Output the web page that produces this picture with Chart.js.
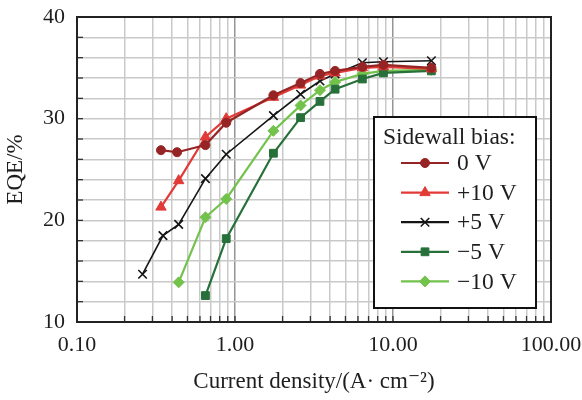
<!DOCTYPE html>
<html>
<head>
<meta charset="utf-8">
<script src="https://cdn.jsdelivr.net/npm/chart.js@4.4.0/dist/chart.umd.min.js"></script>
<style>
  html, body { margin: 0; padding: 0; background: #fff; }
  #wrap { width: 582px; height: 400px; }
</style>
</head>
<body>
<div id="wrap"><canvas id="c" width="582" height="400"></canvas></div>
<script>
// ---- data ----
const seriesNames = ['0 V', '+10 V', '+5 V', '\u22125 V', '\u221210 V'];

const jBias0   = [0.34, 0.43, 0.65, 0.88, 1.75, 2.6, 3.45, 4.3, 6.4, 8.7, 17.5];
const eqeBias0 = [26.9, 26.7, 27.4, 29.6, 32.3, 33.5, 34.4, 34.7, 35.1, 35.3, 35.0];

const jBiasP10   = [0.34, 0.44, 0.65, 0.88, 1.75, 2.6, 3.45, 4.3, 6.4, 8.7, 17.5];
const eqeBiasP10 = [21.3, 23.9, 28.2, 30.0, 32.1, 33.3, 34.2, 34.5, 35.0, 35.1, 34.9];

const jBiasP5   = [0.26, 0.35, 0.44, 0.65, 0.88, 1.75, 2.6, 3.45, 4.3, 6.4, 8.7, 17.5];
const eqeBiasP5 = [14.7, 18.5, 19.6, 24.1, 26.5, 30.3, 32.4, 33.7, 34.4, 35.5, 35.6, 35.7];

const jBiasM5   = [0.65, 0.88, 1.75, 2.6, 3.45, 4.3, 6.4, 8.7, 17.5];
const eqeBiasM5 = [12.6, 18.2, 26.6, 30.1, 31.7, 32.9, 33.9, 34.5, 34.7];

const jBiasM10   = [0.44, 0.65, 0.88, 1.75, 2.6, 3.45, 4.3, 6.4, 8.7, 17.5];
const eqeBiasM10 = [13.9, 20.3, 22.1, 28.8, 31.3, 32.8, 33.6, 34.4, 34.7, 34.8];

const xTickLabels = ['0.10', '1.00', '10.00', '100.00'];
const xDecades = [0.1, 1, 10, 100];
const yTickLabels = [10, 20, 30, 40];

// ---- build datasets ----
function pts(xs, ys) { return xs.map((x, i) => ({ x: x, y: ys[i] })); }
const styles = [
  { color: '#962424', point: 'circle',   radius: 4.5 },
  { color: '#e23a36', point: 'triangle', radius: 6 },
  { color: '#151515', point: 'crossRot', radius: 6 },
  { color: '#27703a', point: 'rect',     radius: 5.5 },
  { color: '#72c24c', point: 'rectRot',  radius: 5.5 }
];
const seriesData = [
  pts(jBias0, eqeBias0),
  pts(jBiasP10, eqeBiasP10),
  pts(jBiasP5, eqeBiasP5),
  pts(jBiasM5, eqeBiasM5),
  pts(jBiasM10, eqeBiasM10)
];
const datasets = seriesData.map((d, i) => ({
  label: seriesNames[i],
  data: d,
  borderColor: styles[i].color,
  backgroundColor: styles[i].color,
  pointBackgroundColor: styles[i].color,
  pointBorderColor: styles[i].color,
  pointStyle: styles[i].point,
  pointRadius: styles[i].radius,
  pointBorderWidth: styles[i].point === 'crossRot' ? 1.6 : 1,
  borderWidth: styles[i].point === 'crossRot' ? 1.6 : 2.2,
  tension: 0
}));

const SERIF = "'Liberation Serif', 'DejaVu Serif', serif";
const TEXT = '#1e1e1e';

function isDecade(v) {
  const l = Math.log10(v);
  return Math.abs(l - Math.round(l)) < 1e-6;
}

// inward ticks on left and bottom axis
const innerTicks = {
  id: 'innerTicks',
  afterDatasetsDraw(chart) {
    const ctx = chart.ctx, ca = chart.chartArea;
    const xs = chart.scales.x, ys = chart.scales.y;
    ctx.save();
    ctx.strokeStyle = '#333';
    ctx.lineWidth = 1.3;
    xs.ticks.forEach(t => {
      const px = xs.getPixelForValue(t.value);
      ctx.beginPath(); ctx.moveTo(px, ca.bottom); ctx.lineTo(px, ca.bottom - 6); ctx.stroke();
    });
    ys.ticks.forEach(t => {
      const py = ys.getPixelForValue(t.value);
      ctx.beginPath(); ctx.moveTo(ca.left, py); ctx.lineTo(ca.left + 6, py); ctx.stroke();
    });
    ctx.strokeStyle = '#222';
    ctx.lineWidth = 2;
    ctx.strokeRect(ca.left, ca.top, ca.right - ca.left, ca.bottom - ca.top);
    ctx.restore();
  }
};

// custom legend box inside plot
const boxLegend = {
  id: 'boxLegend',
  afterDraw(chart) {
    const ctx = chart.ctx, ca = chart.chartArea;
    const left = ca.right - 177, top = ca.top + 100, w = 162, h = 191;
    ctx.save();
    ctx.fillStyle = '#fff';
    ctx.fillRect(left, top, w, h);
    ctx.strokeStyle = '#111';
    ctx.lineWidth = 2;
    ctx.strokeRect(left, top, w, h);
    ctx.fillStyle = TEXT;
    ctx.font = "23.5px " + SERIF;
    ctx.textBaseline = 'alphabetic';
    ctx.textAlign = 'left';
    ctx.fillText('Sidewall bias:', left + 9, top + 27);
    const rowY0 = top + 46, rowStep = 29.6;
    chart.data.datasets.forEach((ds, i) => {
      const y = rowY0 + i * rowStep;
      ctx.strokeStyle = ds.borderColor;
      ctx.lineWidth = 2.2;
      ctx.beginPath(); ctx.moveTo(left + 27, y); ctx.lineTo(left + 75, y); ctx.stroke();
      ctx.fillStyle = ds.pointBackgroundColor;
      ctx.strokeStyle = ds.pointBorderColor;
      ctx.lineWidth = ds.pointBorderWidth;
      Chart.helpers.drawPoint(ctx, {
        pointStyle: ds.pointStyle, radius: ds.pointRadius,
        borderWidth: ds.pointBorderWidth, rotation: 0
      }, left + 51, y);
      ctx.fillStyle = TEXT;
      ctx.textBaseline = 'middle';
      ctx.fillText(ds.label, left + 83, y + 1);
      ctx.textBaseline = 'alphabetic';
    });
    ctx.restore();
  }
};

new Chart(document.getElementById('c'), {
  type: 'line',
  data: { datasets: datasets },
  options: {
    responsive: false,
    animation: false,
    layout: { padding: { top: 17, right: 31, left: 0, bottom: 0 } },
    plugins: { legend: { display: false }, tooltip: { enabled: false } },
    scales: {
      x: {
        type: 'logarithmic',
        min: xDecades[0],
        max: xDecades[xDecades.length - 1],
        afterBuildTicks(scale) {
          const out = [];
          for (let d = 0; d < xDecades.length - 1; d++) {
            for (let k = 1; k <= 9; k++) out.push({ value: xDecades[d] * k });
          }
          out.push({ value: xDecades[xDecades.length - 1] });
          scale.ticks = out;
        },
        afterFit(scale) {
          scale.height = 78;
          scale.paddingLeft = 0; scale.paddingRight = 0;
        },
        ticks: {
          autoSkip: false,
          maxRotation: 0,
          padding: 10,
          color: TEXT,
          font: { family: SERIF, size: 22 },
          callback(v) {
            const idx = xDecades.findIndex(d => Math.abs(d - v) < 1e-9 * Math.max(1, d));
            return idx >= 0 ? xTickLabels[idx] : '';
          }
        },
        grid: {
          drawTicks: false,
          color(c) { return c.tick && isDecade(c.tick.value) ? '#959595' : '#c9c9c9'; },
          lineWidth: 1.5
        },
        border: { display: false },
        title: {
          display: true,
          text: 'Current density/(A\u00b7 cm\u207b\u00b2)',
          color: TEXT,
          font: { family: SERIF, size: 23 },
          padding: { top: 0, bottom: 4 }
        }
      },
      y: {
        min: yTickLabels[0],
        max: yTickLabels[yTickLabels.length - 1],
        afterFit(scale) {
          scale.width = 77;
          scale.paddingTop = 0; scale.paddingBottom = 0;
        },
        ticks: {
          stepSize: 2,
          autoSkip: false,
          padding: 12,
          color: TEXT,
          font: { family: SERIF, size: 22 },
          callback(v) { return yTickLabels.includes(v) ? String(v) : ''; }
        },
        grid: { drawTicks: false, color: '#c9c9c9', lineWidth: 1.5 },
        border: { display: false },
        title: {
          display: true,
          text: 'EQE/%',
          color: TEXT,
          font: { family: SERIF, size: 23 },
          padding: { top: 2, bottom: 0 }
        }
      }
    }
  },
  plugins: [innerTicks, boxLegend]
});
</script>
</body>
</html>
